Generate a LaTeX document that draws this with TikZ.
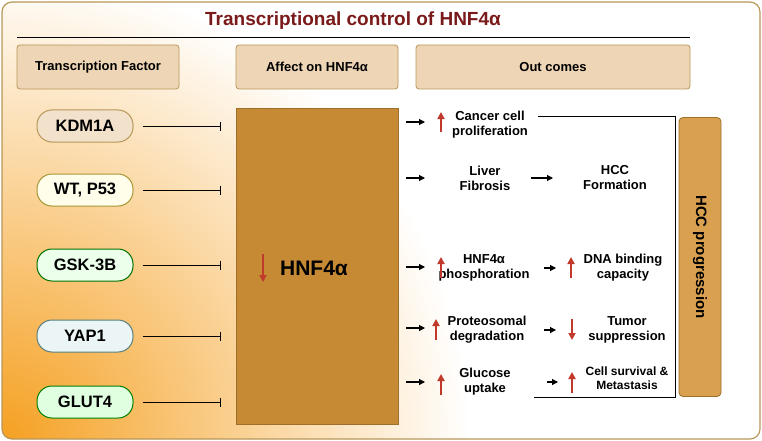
\documentclass[tikz,border=0pt]{standalone}
\usepackage{fontspec}
\setmainfont{Liberation Sans}
\usetikzlibrary{arrows.meta}
\definecolor{bord}{HTML}{B8975A}
\definecolor{hdr}{HTML}{EDD5B5}
\definecolor{bigb}{HTML}{C68A35}
\definecolor{hcc}{HTML}{D9A050}
\definecolor{ttl}{HTML}{7A1A1A}
\definecolor{redar}{HTML}{C0392B}
\definecolor{org}{HTML}{F5A021}
\tikzset{
 hdrbox/.style={draw=bord,fill=hdr,rounded corners=3pt,line width=0.8pt,font=\bfseries\fontsize{13}{15}\selectfont},
 pill/.style={rounded corners=15pt,line width=1pt,minimum width=96pt,minimum height=32pt,font=\bfseries\fontsize{16.5}{18}\selectfont},
 txt/.style={font=\bfseries\fontsize{13}{15}\selectfont,align=center},
 inh/.style={line width=0.8pt,-{Bar[width=9pt]}},
 arr/.style={line width=1.1pt,-{Triangle[length=6pt,width=6pt]}},
 redup/.style={redar,line width=1.8pt,-{Triangle[length=7pt,width=7pt]}},
}
\begin{document}
\begin{tikzpicture}[x=1pt,y=-1pt]
\useasboundingbox (0,0) rectangle (762,441);
\begin{scope}
\clip[rounded corners=10pt] (2,2) rectangle (760,439);
\fill[white] (2,2) rectangle (760,439);
\shade[inner color=org,outer color=white] (0,441) circle (470);
\end{scope}
\draw[bord,line width=1.2pt,rounded corners=10pt] (2,2) rectangle (760,439);
\node[font=\bfseries\fontsize{19}{21}\selectfont,text=ttl] (title) at (353,21) {Transcriptional control of HNF4α};
\draw[line width=1pt] (17,38) -- (690,38);
\node[hdrbox,minimum width=162pt,minimum height=44pt] (h1) at (98,67) {Transcription Factor};
\node[hdrbox,minimum width=162pt,minimum height=44pt] (h2) at (317,67) {Affect on HNF4α};
\node[hdrbox,minimum width=274pt,minimum height=44pt] (h3) at (553,67) {Out comes};
\node[pill,draw=bord,fill=hdr!70!white] (k) at (85,126) {KDM1A};
\node[pill,draw=olive!50!bord,fill=yellow!8!white] (w) at (85,190) {WT, P53};
\node[pill,draw=green!45!black,fill=green!8!white] (g) at (85,265) {GSK-3B};
\node[pill,draw=gray!70!teal,fill=teal!8!white] (y) at (85,336) {YAP1};
\node[pill,draw=green!50!black,fill=green!12!white] (gl) at (85,402) {GLUT4};
\node[draw=bigb!80!black,fill=bigb,minimum width=162pt,minimum height=316pt,inner sep=0pt] (big) at (317,266) {};
\node[font=\bfseries\fontsize{21}{23}\selectfont] (hn) at (314,268) {HNF4α};
\draw[redup] (263,254) -- (263,282);
\foreach \n/\yy in {k/126,w/190,g/265,y/336,gl/402}{
 \coordinate (e\n) at (221,\yy);
 \draw[inh] (\n.east)++(9,0) -- (e\n);
}
\node[txt] (o1) at (490,125) {Cancer cell\\proliferation};
\node[txt] (o2) at (485,178) {Liver\\Fibrosis};
\node[txt] (o3) at (615,178) {HCC\\Formation};
\node[txt] (o4) at (484,268) {HNF4α\\phosphoration};
\node[txt] (o5) at (623,268) {DNA binding\\capacity};
\node[txt] (o6) at (487,330) {Proteosomal\\degradation};
\node[txt] (o7) at (627,330) {Tumor\\suppression};
\node[txt] (o8) at (485,382) {Glucose\\uptake};
\node[txt,font=\bfseries\fontsize{12}{14}\selectfont] (o9) at (627,378) {Cell survival \&\\Metastasis};
\foreach \yy in {122,178,267,328,382}{\draw[arr] (406,\yy) -- (425,\yy);}
\draw[arr] (531,178) -- (553,178);
\draw[arr] (544,268) -- (556,268);
\draw[arr] (544,330) -- (556,330);
\draw[arr] (547,382) -- (558,382);
\draw[redup] (441,132) -- (441,112);
\draw[redup] (441,278) -- (441,257);
\draw[redup] (436,340) -- (436,319);
\draw[redup] (441,395) -- (441,374);
\draw[redup] (571,278) -- (571,257);
\draw[redup] (572,319) -- (572,340);
\draw[redup] (572,393) -- (572,372);
\node[draw=bigb!80!black,fill=hcc,rounded corners=4pt,minimum width=42pt,minimum height=279pt,line width=0.8pt] (hp) at (700,257) {};
\node[rotate=-90,font=\bfseries\fontsize{15}{17}\selectfont] at (hp.center) {HCC progression};
\draw[line width=1pt] (538,117) -- (675,117) -- (675,397) -- (534,397);
\end{tikzpicture}
\end{document}
